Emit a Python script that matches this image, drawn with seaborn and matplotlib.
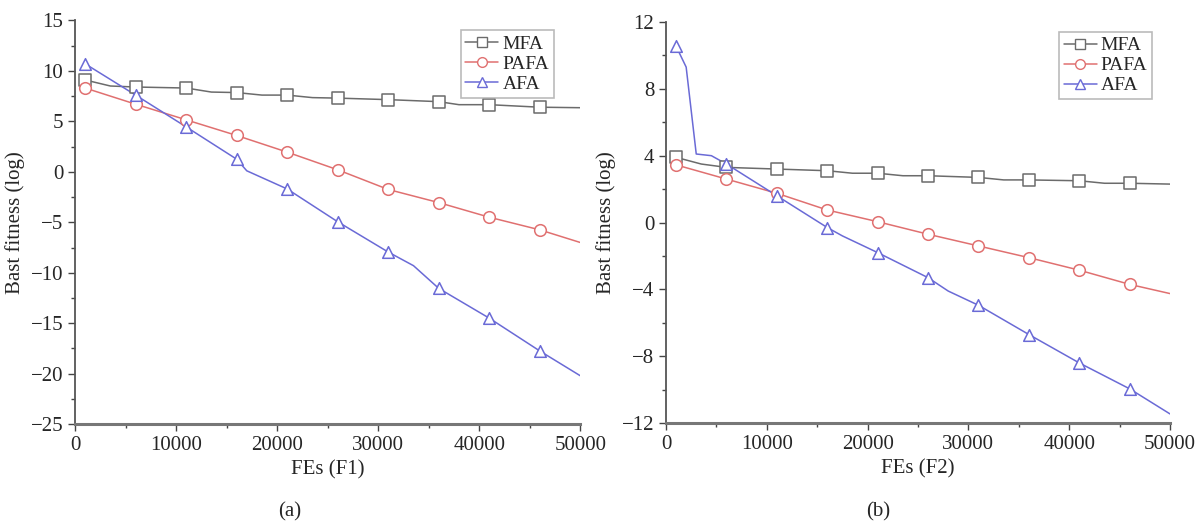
import matplotlib
matplotlib.use("Agg")
import matplotlib.pyplot as plt
from matplotlib.lines import Line2D
from matplotlib.ticker import MultipleLocator
import pandas as pd
import seaborn as sns

# ---------------------------------------------------------------------------
# Data
# ---------------------------------------------------------------------------

MARK_X = [1000, 6000, 11000, 16000, 21000, 26000, 31000, 36000, 41000, 46000]

# panel (a): F1
A_MFA_X = [1000, 3500, 6000, 11000, 13500, 16000, 18500, 21000, 23500, 26000,
           31000, 36000, 38000, 41000, 46000, 50000]
A_MFA_Y = [9.1, 8.5, 8.4, 8.3, 7.9, 7.85, 7.6, 7.6, 7.35, 7.3,
           7.15, 6.95, 6.65, 6.65, 6.4, 6.35]
A_MFA_M = [9.1, 8.4, 8.3, 7.85, 7.6, 7.3, 7.15, 6.95, 6.65, 6.4]

A_PAFA_X = [1000, 6000, 11000, 16000, 21000, 26000, 31000, 36000, 41000, 46000, 50000]
A_PAFA_Y = [8.3, 6.7, 5.15, 3.6, 1.95, 0.2, -1.75, -3.05, -4.5, -5.75, -7.0]

A_AFA_X = [1000, 6000, 11000, 16000, 17000, 21000, 26000, 31000, 33500, 36000,
           41000, 46000, 50000]
A_AFA_Y = [10.7, 7.6, 4.45, 1.25, 0.1, -1.7, -4.95, -7.95, -9.3, -11.55,
           -14.5, -17.75, -20.2]
A_AFA_M = [10.7, 7.6, 4.45, 1.25, -1.7, -4.95, -7.95, -11.55, -14.5, -17.75]

# panel (b): F2
B_MFA_X = [1000, 3500, 6000, 11000, 16000, 18500, 21000, 23500, 26000, 31000,
           33500, 36000, 41000, 43500, 46000, 50000]
B_MFA_Y = [3.9, 3.5, 3.3, 3.2, 3.1, 2.95, 2.95, 2.8, 2.8, 2.7,
           2.55, 2.55, 2.5, 2.35, 2.35, 2.3]
B_MFA_M = [3.9, 3.3, 3.2, 3.1, 2.95, 2.8, 2.7, 2.55, 2.5, 2.35]

B_PAFA_X = [1000, 6000, 11000, 16000, 21000, 26000, 31000, 36000, 41000, 46000, 50000]
B_PAFA_Y = [3.45, 2.6, 1.75, 0.75, 0.05, -0.7, -1.4, -2.1, -2.85, -3.7, -4.25]

B_AFA_X = [1000, 2000, 3000, 4500, 6000, 11000, 16000, 17500, 21000, 26000,
           28000, 31000, 36000, 41000, 46000, 50000]
B_AFA_Y = [10.55, 9.3, 4.1, 4.0, 3.5, 1.6, -0.3, -0.8, -1.8, -3.3,
           -4.1, -4.95, -6.7, -8.4, -9.95, -11.45]
B_AFA_M = [10.55, 3.5, 1.6, -0.3, -1.8, -3.3, -4.95, -6.7, -8.4, -9.95]

ALGOS = ["MFA", "PAFA", "AFA"]
COLORS = {"MFA": "#6b6b6b", "PAFA": "#e07070", "AFA": "#6a6ad6"}
MARKERS = {"MFA": "s", "PAFA": "o", "AFA": "^"}


def long_frame(series):
    rows = []
    for name, xs, ys in series:
        rows += [{"algo": name, "fes": x, "fit": y} for x, y in zip(xs, ys)]
    return pd.DataFrame(rows)


sns.set_theme(style="white")
plt.rcParams["font.family"] = ["Liberation Serif", "DejaVu Serif"]


def draw_panel(ax, lines, marks, ylim, ystep, xlabel, anchor):
    line_df = long_frame(lines)
    mark_df = long_frame(marks)
    sns.lineplot(data=line_df, x="fes", y="fit", hue="algo", palette=COLORS,
                 hue_order=ALGOS, sort=False, estimator=None, lw=1.1,
                 legend=False, ax=ax)
    for algo in ALGOS:
        d = mark_df[mark_df.algo == algo]
        sns.scatterplot(data=d, x="fes", y="fit", marker=MARKERS[algo], s=70,
                        facecolor="white", edgecolor=COLORS[algo], linewidth=1.1,
                        legend=False, ax=ax, zorder=3)
    ax.set_xlim(0, 50000)
    ax.set_ylim(*ylim)
    ax.xaxis.set_major_locator(MultipleLocator(10000))
    ax.xaxis.set_minor_locator(MultipleLocator(5000))
    ax.yaxis.set_major_locator(MultipleLocator(ystep))
    ax.yaxis.set_minor_locator(MultipleLocator(ystep / 2))
    ax.tick_params(which="major", direction="out", length=5, width=1,
                   color="#444444", labelsize=15, bottom=True, left=True)
    ax.tick_params(which="minor", direction="out", length=3, width=1,
                   color="#444444", bottom=True, left=True)
    for side in ("top", "right"):
        ax.spines[side].set_visible(False)
    ax.spines["left"].set_color("#555555")
    ax.spines["left"].set_linewidth(1.3)
    ax.spines["bottom"].set_color("#777777")
    ax.spines["bottom"].set_linewidth(2.2)
    ax.set_xlabel(xlabel, fontsize=15)
    ax.set_ylabel("Bast fitness (log)", fontsize=15)
    handles = [Line2D([0], [0], color=COLORS[a], marker=MARKERS[a], markersize=7,
                      markerfacecolor="white", markeredgecolor=COLORS[a], lw=1.1,
                      label=a) for a in ALGOS]
    leg = ax.legend(handles=handles, loc="upper right", fontsize=14,
                    frameon=True, fancybox=False, borderpad=0.25,
                    handlelength=1.7, handletextpad=0.2, labelspacing=0.12,
                    borderaxespad=0.0, bbox_to_anchor=anchor)
    leg.get_frame().set_edgecolor("#aaaaaa")
    leg.get_frame().set_linewidth(1.2)


fig = plt.figure(figsize=(12, 5.23), dpi=100)
ax_a = fig.add_axes([0.0625, 0.189, 0.421, 0.772])
ax_b = fig.add_axes([0.555, 0.191, 0.42, 0.767])

draw_panel(ax_a,
           [("MFA", A_MFA_X, A_MFA_Y), ("PAFA", A_PAFA_X, A_PAFA_Y),
            ("AFA", A_AFA_X, A_AFA_Y)],
           [("MFA", MARK_X, A_MFA_M), ("PAFA", MARK_X, A_PAFA_Y[:-1]),
            ("AFA", MARK_X, A_AFA_M)],
           (-25, 15), 5, "FEs (F1)", (0.948, 0.975))
draw_panel(ax_b,
           [("MFA", B_MFA_X, B_MFA_Y), ("PAFA", B_PAFA_X, B_PAFA_Y),
            ("AFA", B_AFA_X, B_AFA_Y)],
           [("MFA", MARK_X, B_MFA_M), ("PAFA", MARK_X, B_PAFA_Y[:-1]),
            ("AFA", MARK_X, B_AFA_M)],
           (-12, 12), 4, "FEs (F2)", (0.965, 0.975))

fig.text(290 / 1200, 1 - 512 / 523, "(a)", ha="center", va="center", fontsize=15)
fig.text(878 / 1200, 1 - 512 / 523, "(b)", ha="center", va="center", fontsize=15)

fig.savefig("out.png", dpi=100)
